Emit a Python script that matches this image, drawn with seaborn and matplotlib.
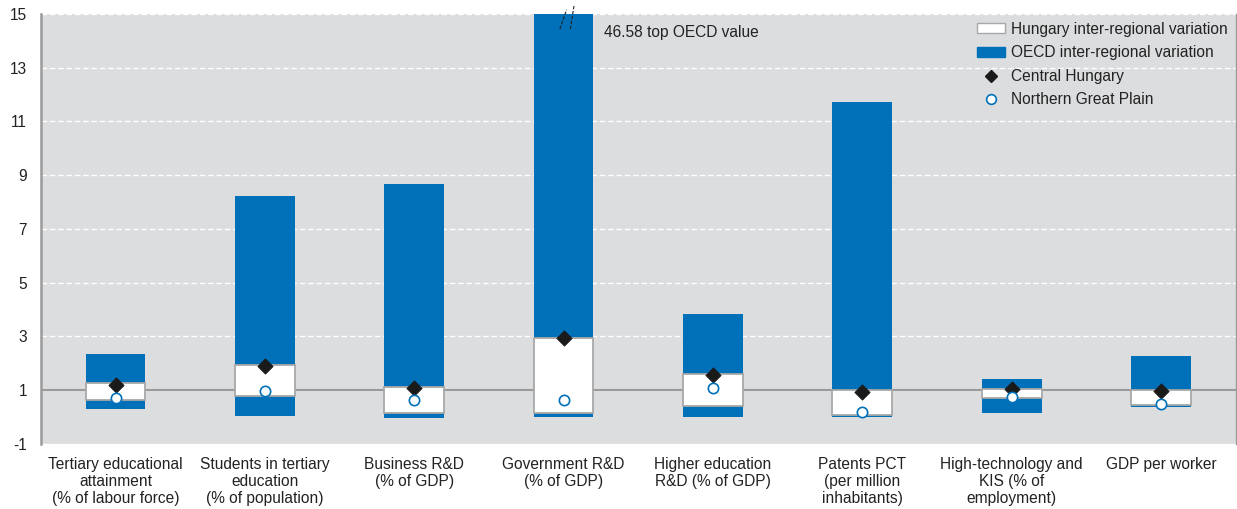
import matplotlib
matplotlib.use("Agg")
import matplotlib.pyplot as plt
import seaborn as sns
import numpy as np
from matplotlib.patches import Patch
from matplotlib.lines import Line2D
import matplotlib.transforms as mtransforms

categories = [
    "Tertiary educational\nattainment\n(% of labour force)",
    "Students in tertiary\neducation\n(% of population)",
    "Business R&D\n(% of GDP)",
    "Government R&D\n(% of GDP)",
    "Higher education\nR&D (% of GDP)",
    "Patents PCT\n(per million\ninhabitants)",
    "High-technology and\nKIS (% of\nemployment)",
    "GDP per worker",
]
oecd_min = [0.31, 0.05, -0.02, 0.02, 0.00, 0.02, 0.17, 0.36]
oecd_max = [2.35, 8.23, 8.67, 46.58, 3.84, 11.73, 1.42, 2.27]
hun_min = [0.64, 0.79, 0.14, 0.14, 0.41, 0.08, 0.70, 0.45]
hun_max = [1.26, 1.94, 1.11, 2.96, 1.60, 1.01, 1.03, 1.01]
central_hungary = [1.20, 1.90, 1.07, 2.96, 1.57, 0.95, 1.06, 0.97]
northern_great_plain = [0.70, 0.98, 0.64, 0.64, 1.10, 0.18, 0.74, 0.49]
yticks = [-1, 1, 3, 5, 7, 9, 11, 13, 15]

BLUE = "#0070B8"
BG = "#DCDDDF"
GREY = "#9A9A9A"
FS = 11.2

sns.set_theme(style="white")
plt.rcParams["font.family"] = ["Liberation Sans", "DejaVu Sans"]
plt.rcParams["text.color"] = "#222222"

fig = plt.figure(figsize=(12.37, 5.09), dpi=100)
ax = fig.add_axes([0.033, 0.1277, 0.966, 0.8448])
ax.set_facecolor(BG)

oecd_h = [b - a for a, b in zip(oecd_min, oecd_max)]
hun_h = [b - a for a, b in zip(hun_min, hun_max)]

sns.barplot(x=categories, y=oecd_h, bottom=oecd_min, width=0.4, color=BLUE,
            saturation=1, errorbar=None, ax=ax, zorder=3, linewidth=0)
sns.barplot(x=categories, y=hun_h, bottom=hun_min, width=0.4, color="white",
            saturation=1, errorbar=None, ax=ax, zorder=4, edgecolor="#A8A8A8",
            linewidth=1.3)
sns.scatterplot(x=categories, y=central_hungary, marker="D", color="#1A1A1A",
                s=60, edgecolor="#1A1A1A", ax=ax, zorder=6, legend=False)
sns.scatterplot(x=categories, y=northern_great_plain, marker="o", color="white",
                s=55, edgecolor=BLUE, linewidth=1.2, ax=ax, zorder=6, legend=False)

ax.set_xlim(-0.5, 7.5)
ax.set_ylim(-1, 15)
ax.set_yticks(yticks)
ax.set_yticklabels([str(t) for t in yticks])
for t in yticks:
    ax.axhline(t, color="white", linestyle=(0, (4, 2)), linewidth=1, zorder=1)
ax.axhline(1, color=GREY, linewidth=1.5, zorder=2)

ax.tick_params(axis="both", length=0, labelsize=FS, colors="#222222")
ax.tick_params(axis="x", pad=9)
ax.tick_params(axis="y", pad=10)
ax.set_xlabel("")
ax.set_ylabel("")
for s in ["top", "bottom"]:
    ax.spines[s].set_visible(False)
ax.spines["left"].set_color(GREY)
ax.spines["left"].set_linewidth(1.8)
ax.spines["right"].set_color(GREY)
ax.spines["right"].set_linewidth(1.0)

# break marks on the truncated bar
trans = mtransforms.blended_transform_factory(ax.transData, ax.transAxes)
ax.plot([2.975, 3.02], [0.965, 1.01], transform=trans, color="#222222",
        linestyle=(0, (3, 1.5)), linewidth=0.8, clip_on=False, zorder=7)
ax.plot([3.045, 3.07], [0.965, 1.02], transform=trans, color="#222222",
        linestyle=(0, (3, 1.5)), linewidth=0.8, clip_on=False, zorder=7)
ax.text(3.27, 14.33, "46.58 top OECD value", fontsize=FS, va="center",
        ha="left", color="#222222", zorder=7)

handles = [
    Patch(facecolor="white", edgecolor="#A8A8A8", linewidth=1.0),
    Patch(facecolor=BLUE, edgecolor=BLUE),
    Line2D([], [], marker="D", color="none", markerfacecolor="#1A1A1A",
           markeredgecolor="#1A1A1A", markersize=6),
    Line2D([], [], marker="o", color="none", markerfacecolor="white",
           markeredgecolor=BLUE, markersize=7, markeredgewidth=1.2),
]
labels = ["Hungary inter-regional variation", "OECD inter-regional variation",
          "Central Hungary", "Northern Great Plain"]
leg = ax.legend(handles, labels, loc="upper right", bbox_to_anchor=(1.0, 1.0),
                frameon=False, fontsize=FS, handlelength=1.8, handleheight=0.6,
                handletextpad=0.4, labelspacing=0.55, borderaxespad=0.1)

fig.savefig("out.png", dpi=100, facecolor="white")
